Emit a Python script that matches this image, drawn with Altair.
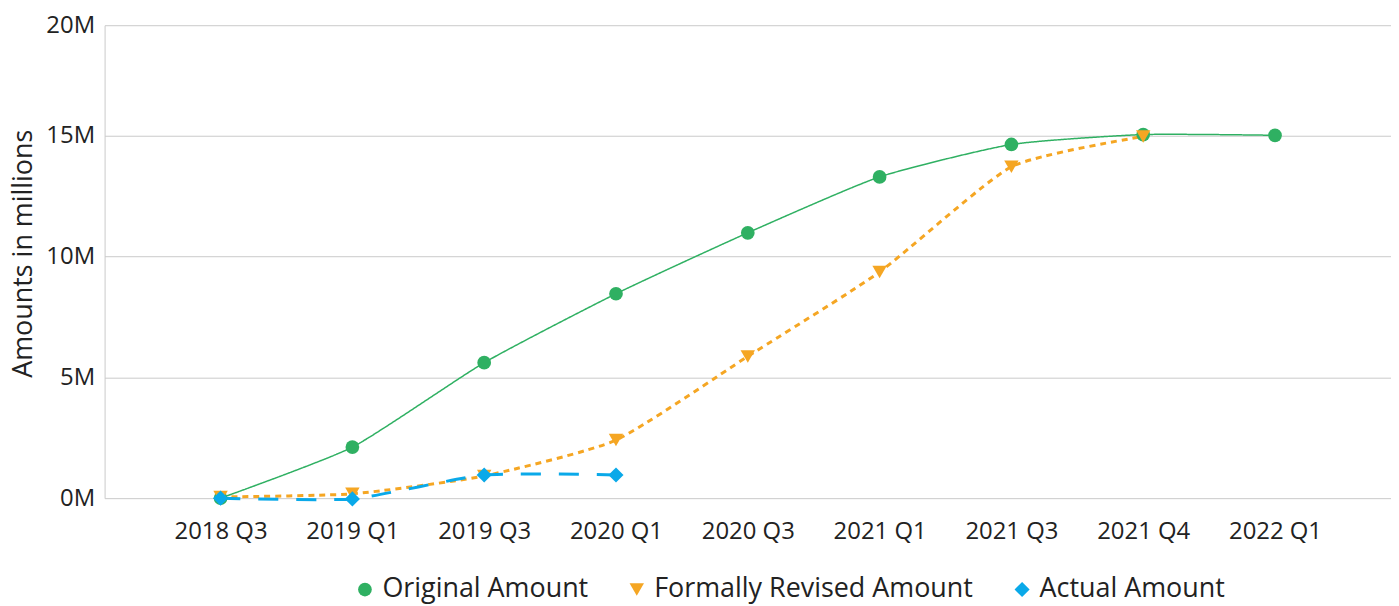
import altair as alt
import pandas as pd

quarters = ["2018 Q3", "2019 Q1", "2019 Q3", "2020 Q1", "2020 Q3",
            "2021 Q1", "2021 Q3", "2021 Q4", "2022 Q1"]
series = ["Original Amount", "Formally Revised Amount", "Actual Amount"]
original = [0.0, 2.11, 5.60, 8.45, 10.97, 13.28, 14.62, 15.03, 15.0]
revised = [0.05, 0.18, 0.92, 2.40, 5.86, 9.35, 13.70, 14.95, None]
actual = [0.0, -0.03, 0.96, 0.96, None, None, None, None, None]
colors = ["#2fb062", "#f5a623", "#0aa9e9"]
shapes = ["circle", "triangle-down", "diamond"]
dashes = [[1, 0], [6, 5], [20, 18]]
widths = [1.5, 3, 3]
sizes = [190, 230, 300]

rows = []
for name, vals in zip(series, [original, revised, actual]):
    for q, v in zip(quarters, vals):
        if v is not None:
            rows.append({"quarter": q, "series": name, "value": v})
df = pd.DataFrame(rows)

FONT = "Open Sans"
x = alt.X("quarter:O", sort=quarters, title=None,
          scale=alt.Scale(type="point", padding=0.88),
          axis=alt.Axis(labelAngle=0, labelFontSize=24, labelPadding=22, ticks=False,
                        domain=False, grid=False, labelColor="#222"))
y = alt.Y("value:Q", title="Amounts in millions",
          scale=alt.Scale(domain=[0, 19.55], nice=False, zero=False),
          axis=alt.Axis(values=[0, 5, 10, 15, 19.55], labelExpr="round(datum.value) + 'M'",
                        labelFontSize=24, labelPadding=10, ticks=False,
                        titleFontSize=27, titleFontWeight="normal", titlePadding=8,
                        titleY=229,
                        titleColor="#222", labelColor="#222",
                        domain=True, domainColor="#cacaca", gridColor="#cacaca"))

base = alt.Chart(df)
line_layers = []
for name, c, d, w in zip(series, colors, dashes, widths):
    line_layers.append(
        base.transform_filter(alt.datum.series == name)
        .mark_line(interpolate="cardinal", tension=0.45, color=c, strokeDash=d, strokeWidth=w)
        .encode(x=x, y=y)
    )

legend = alt.Legend(title=None, orient="none", direction="horizontal",
                    legendX=248, legendY=553, columns=3, columnPadding=35,
                    labelFontSize=27, symbolSize=140, labelColor="#222",
                    symbolOpacity=1, labelLimit=400)
points = base.mark_point(filled=True, opacity=1).encode(
    x=x, y=y,
    color=alt.Color("series:N", sort=series, scale=alt.Scale(domain=series, range=colors), legend=legend),
    shape=alt.Shape("series:N", sort=series, scale=alt.Scale(domain=series, range=shapes), legend=legend),
    size=alt.Size("series:N", sort=series, scale=alt.Scale(domain=series, range=sizes), legend=None),
)

chart = alt.layer(*line_layers, points).properties(
    width=1292, height=475,
    autosize=alt.AutoSizeParams(type="none"),
    padding={"left": 97, "top": 16, "right": 0, "bottom": 106},
).configure(font=FONT).configure_view(stroke=None).configure_axis(labelFont=FONT, titleFont=FONT)

chart.save("out.html", embed_options={"renderer": "svg", "actions": False})
